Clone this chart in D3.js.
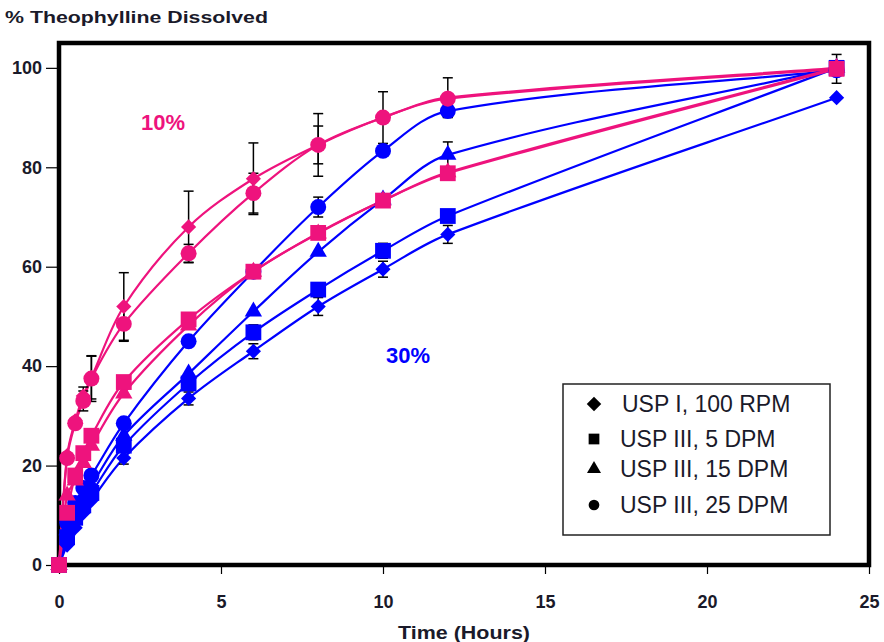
<!DOCTYPE html>
<html>
<head>
<meta charset="utf-8">
<script src="https://cdn.jsdelivr.net/npm/d3@7"></script>
<style>
    body { margin: 0; background: #fff; }
    svg { display: block; font-family: "Liberation Sans", Arial, sans-serif; }
</style>
</head>
<body>
<div id="chart"></div>
<script>
// sampling times (hours)
const times = [0, 0.25, 0.5, 0.75, 1, 2, 4, 6, 8, 10, 12, 24];

// 30% loading (blue)
const blueUspI100 = [0, 4, 7.5, 10.5, 13, 21.5, 33.5, 43, 52, 59.5, 66.5, 94];
const blueUspIII5 = [0, 5.6, 9.5, 12, 14.5, 24, 36.5, 46.8, 55.4, 63.2, 70.2, 100];
const blueUspIII15 = [0, 7, 11, 13.5, 16, 26, 38.5, 51, 63, 73.5, 82.5, 100];
const blueUspIII25 = [0, 8.5, 12.5, 15.5, 18, 28.5, 45, 59, 72, 83.3, 91.3, 99.5];

// 10% loading (pink)
const pinkUspI100 = [0, 22, 29, 34, 37.7, 52, 68, 77.7, 84.5, 90, 94, 100];
const pinkUspIII5 = [0, 10.5, 18, 22.5, 26, 36.8, 49.4, 59, 66.8, 73.3, 78.8, 99.8];
const pinkUspIII15 = [0, 14, 17, 20.5, 24, 34.5, 48.2, 59, 66.7, 73.3, 79, 100];
const pinkUspIII25 = [0, 21.5, 28.5, 33, 37.5, 48.5, 62.7, 74.8, 84.5, 90, 93.8, 99.8];

// standard deviations (null = no bar shown)
const blueUspI100Sd = [null, null, null, null, null, 1.2, 1.3, 1.5, 1.8, 1.6, 1.8, null];
const blueUspIII5Sd = [null, null, null, null, null, 1.2, null, 1.5, null, 1.5, null, null];
const blueUspIII15Sd = [null, null, null, null, null, null, null, null, null, null, 2.6, null];
const blueUspIII25Sd = [null, null, null, null, null, null, null, null, 2, null, 1.2, null];
const pinkUspI100Sd = [null, null, null, 1.8, 4.3, 6.8, 7.2, 7.2, 6.3, 5.2, 4, null];
const pinkUspIII5Sd = [null, null, null, null, null, null, null, null, null, null, null, 2.9];
const pinkUspIII15Sd = [null, null, null, null, null, null, null, null, null, null, null, null];
const pinkUspIII25Sd = [null, null, null, 2, 4.6, 3.5, 1.8, 4, 3.8, null, null, null];

const xTicks = [0, 5, 10, 15, 20, 25];
const yTicks = [0, 20, 40, 60, 80, 100];

const legendLabels = ["USP I, 100 RPM", "USP III, 5 DPM", "USP III, 15 DPM", "USP III, 25 DPM"];
const shapes = ["diamond", "square", "triangle", "circle"];

const blue = "#0000ff";
const pink = "#ee137d";
const ink = "#1a1a2a";

// draw order: blue below, pink on top
const series = [
    {values: blueUspI100, sd: blueUspI100Sd, shape: "diamond", color: blue},
    {values: blueUspIII5, sd: blueUspIII5Sd, shape: "square", color: blue},
    {values: blueUspIII15, sd: blueUspIII15Sd, shape: "triangle", color: blue},
    {values: blueUspIII25, sd: blueUspIII25Sd, shape: "circle", color: blue},
    {values: pinkUspI100, sd: pinkUspI100Sd, shape: "diamond", color: pink},
    {values: pinkUspIII15, sd: pinkUspIII15Sd, shape: "triangle", color: pink},
    {values: pinkUspIII25, sd: pinkUspIII25Sd, shape: "circle", color: pink},
    {values: pinkUspIII5, sd: pinkUspIII5Sd, shape: "square", color: pink}
];

const width = 884, height = 642;
const marginLeft = 59, marginRight = 15, marginTop = 43, marginBottom = 77;

const x = d3.scaleLinear().domain([0, 25]).range([marginLeft, width - marginRight]);
const y = d3.scaleLinear().domain([0, 105]).range([height - marginBottom, marginTop]);

function markerPath(shape, size) {
    if (shape === "diamond" || shape === "square") return d3.symbol(d3.symbolSquare, size)();
    if (shape === "triangle") return d3.symbol(d3.symbolTriangle, size)();
    return d3.symbol(d3.symbolCircle, size)();
}

// spreadsheet-style smoothing: tangent along neighbour chord,
// handle length scaled to each segment so long gaps stay nearly straight
function smoothLine(values) {
    const pts = values.map((v, i) => [x(times[i]), y(v)]);
    const n = pts.length;
    const tangent = i => {
        const a = pts[Math.max(0, i - 1)], b = pts[Math.min(n - 1, i + 1)];
        const dx = b[0] - a[0], dy = b[1] - a[1], len = Math.hypot(dx, dy) || 1;
        return [dx / len, dy / len];
    };
    const p = d3.path();
    p.moveTo(pts[0][0], pts[0][1]);
    for (let i = 0; i < n - 1; ++i) {
        const a = pts[i], b = pts[i + 1];
        const seg = Math.hypot(b[0] - a[0], b[1] - a[1]) / 3;
        const ta = tangent(i), tb = tangent(i + 1);
        p.bezierCurveTo(a[0] + ta[0] * seg, a[1] + ta[1] * seg,
            b[0] - tb[0] * seg, b[1] - tb[1] * seg, b[0], b[1]);
    }
    return p.toString();
}

const plotSizes = {diamond: 115, square: 250, triangle: 130, circle: 200};
const legendSizes = {diamond: 105, square: 115, triangle: 85, circle: 90};

const svg = d3.select("#chart").append("svg")
    .attr("width", width)
    .attr("height", height)
    .attr("viewBox", [0, 0, width, height]);

// y title
svg.append("text")
    .attr("x", 5)
    .attr("y", 23)
    .attr("font-size", 17)
    .attr("font-weight", "bold")
    .attr("fill", ink)
    .attr("textLength", 263)
    .attr("lengthAdjust", "spacingAndGlyphs")
    .text("% Theophylline Dissolved");

function styleTicks(g) {
    g.select(".domain").remove();
    g.selectAll(".tick line").attr("stroke", "#000").attr("stroke-width", 1.2);
    g.selectAll(".tick text")
        .attr("font-size", 18)
        .attr("font-weight", "bold")
        .attr("fill", ink)
        .attr("font-family", "Liberation Sans, Arial, sans-serif");
}

// axes
svg.append("g")
    .attr("transform", `translate(${marginLeft},0)`)
    .call(d3.axisLeft(y).tickValues(yTicks).tickSize(13).tickPadding(4))
    .call(styleTicks);

svg.append("g")
    .attr("transform", `translate(0,${y(0)})`)
    .call(d3.axisBottom(x).tickValues(xTicks).tickSize(9).tickPadding(21))
    .call(styleTicks);

svg.append("text")
    .attr("x", 464)
    .attr("y", 639)
    .attr("text-anchor", "middle")
    .attr("font-size", 18)
    .attr("font-weight", "bold")
    .attr("fill", ink)
    .attr("textLength", 132)
    .attr("lengthAdjust", "spacingAndGlyphs")
    .text("Time (Hours)");

// plot frame
svg.append("rect")
    .attr("x", x(0))
    .attr("y", y(105))
    .attr("width", x(25) - x(0))
    .attr("height", y(0) - y(105))
    .attr("fill", "none")
    .attr("stroke", "#000")
    .attr("stroke-width", 4.5);

// lines
svg.append("g")
    .selectAll("path")
    .data(series)
    .join("path")
    .attr("d", s => smoothLine(s.values))
    .attr("fill", "none")
    .attr("stroke", s => s.color)
    .attr("stroke-width", 2.2);

// error bars
const bars = svg.append("g")
    .attr("stroke", "#000")
    .attr("stroke-width", 1.5);
series.forEach(s => {
    s.sd.forEach((sd, i) => {
        if (sd === null) return;
        const cx = x(times[i]);
        const top = y(s.values[i] + sd), bottom = y(s.values[i] - sd);
        bars.append("line").attr("x1", cx).attr("x2", cx).attr("y1", top).attr("y2", bottom);
        bars.append("line").attr("x1", cx - 5).attr("x2", cx + 5).attr("y1", top).attr("y2", top);
        bars.append("line").attr("x1", cx - 5).attr("x2", cx + 5).attr("y1", bottom).attr("y2", bottom);
    });
});

// markers
series.forEach(s => {
    svg.append("g")
        .selectAll("path")
        .data(s.values)
        .join("path")
        .attr("d", markerPath(s.shape, plotSizes[s.shape]))
        .attr("transform", (d, i) => `translate(${x(times[i])},${y(d)})` + (s.shape === "diamond" ? " rotate(45)" : ""))
        .attr("fill", s.color);
});

// group labels
svg.append("text")
    .attr("x", 163).attr("y", 130)
    .attr("text-anchor", "middle")
    .attr("font-size", 22).attr("font-weight", "bold")
    .attr("fill", pink)
    .text("10%");

svg.append("text")
    .attr("x", 408).attr("y", 363)
    .attr("text-anchor", "middle")
    .attr("font-size", 22).attr("font-weight", "bold")
    .attr("fill", blue)
    .text("30%");

// legend
const legend = svg.append("g");
legend.append("rect")
    .attr("x", 563).attr("y", 384)
    .attr("width", 267).attr("height", 151)
    .attr("fill", "#fff")
    .attr("stroke", "#222")
    .attr("stroke-width", 1.5);

const legendRows = [404, 439, 469, 505];
legendLabels.forEach((label, i) => {
    legend.append("path")
        .attr("d", markerPath(shapes[i], legendSizes[shapes[i]]))
        .attr("transform", `translate(594,${legendRows[i]})` + (shapes[i] === "diamond" ? " rotate(45)" : ""))
        .attr("fill", "#000");
    legend.append("text")
        .attr("x", i === 0 ? 622 : 620)
        .attr("y", legendRows[i])
        .attr("dy", "0.36em")
        .attr("font-size", 23)
        .attr("fill", ink)
        .text(label);
});
</script>
</body>
</html>
